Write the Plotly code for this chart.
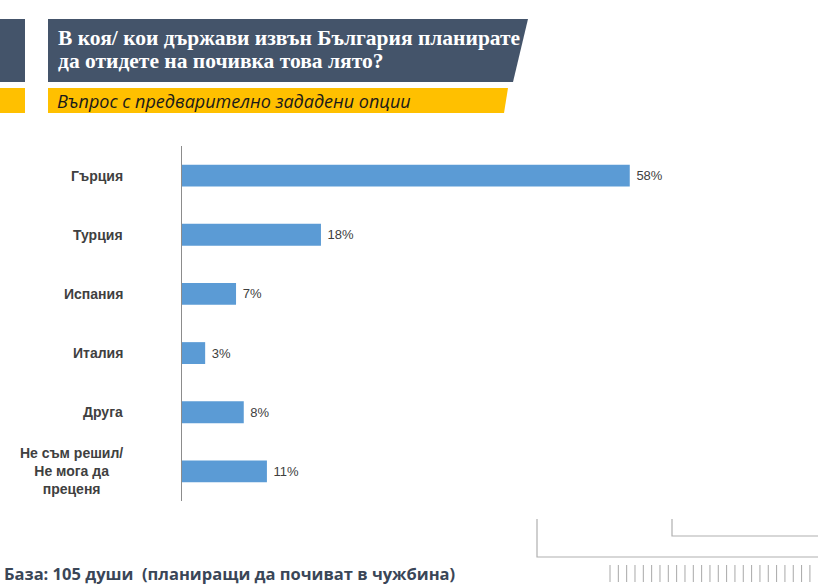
import plotly.graph_objects as go

categories = ["Гърция", "Турция", "Испания", "Италия", "Друга",
              "Не съм решил/<br>Не мога да<br>преценя"]
values = [58, 18, 7, 3, 8, 11]

title_line1 = "В коя/ кои държави извън България планирате"
title_line2 = "да отидете на почивка това лято?"
subtitle = "Въпрос с предварително зададени опции"
footer = "База: 105 души  (планиращи да почиват в чужбина)"

W, H = 818, 585
L, R, T, B = 182, 49, 146, 84
PW, PH = W - L - R, H - T - B


def fx(x):
    return (x - L) / PW


def fy(y):
    return (H - B - y) / PH


def path(pts):
    return "M " + " L ".join(f"{fx(x)},{fy(y)}" for x, y in pts) + " Z"


fig = go.Figure(go.Bar(
    x=values, y=categories, orientation="h",
    marker=dict(color="#5B9BD5", line=dict(width=0)),
    texttemplate=" %{x}%", textposition="outside",
    textfont=dict(family="Liberation Sans, Arial", size=13, color="#404040"),
    cliponaxis=False, hoverinfo="skip",
))

shapes = []
DARK = "#44546A"
YEL = "#FFC000"
# header bands
shapes.append(dict(type="path", xref="paper", yref="paper", layer="below",
                   path=path([(0, 19), (25, 19), (25, 82), (0, 82)]),
                   fillcolor=DARK, line=dict(width=0)))
shapes.append(dict(type="path", xref="paper", yref="paper", layer="below",
                   path=path([(48, 19), (528, 19), (513, 82), (48, 82)]),
                   fillcolor=DARK, line=dict(width=0)))
shapes.append(dict(type="path", xref="paper", yref="paper", layer="below",
                   path=path([(0, 88), (25, 88), (25, 113), (0, 113)]),
                   fillcolor=YEL, line=dict(width=0)))
shapes.append(dict(type="path", xref="paper", yref="paper", layer="below",
                   path=path([(48, 88), (508, 88), (504, 113), (48, 113)]),
                   fillcolor=YEL, line=dict(width=0)))
# bottom-right decorations
LG = "#B0B0B0"
for pts in ([(537, 519), (537, 557), (818, 557)], [(672, 519), (672, 536), (818, 536)]):
    shapes.append(dict(type="path", xref="paper", yref="paper",
                       path="M " + " L ".join(f"{fx(x)},{fy(y)}" for x, y in pts),
                       line=dict(color=LG, width=1.2)))
for i in range(25):
    x = 610 + i * 8.33
    shapes.append(dict(type="line", xref="paper", yref="paper",
                       x0=fx(x), x1=fx(x), y0=fy(565), y1=fy(582),
                       line=dict(color="#A8A8A8", width=1)))

annotations = [
    dict(xref="paper", yref="paper", x=fx(56), y=fy(38), xanchor="left", yanchor="middle",
         text=f"<b>{title_line1}</b>", showarrow=False,
         font=dict(family="Liberation Serif, serif", size=21.5, color="white")),
    dict(xref="paper", yref="paper", x=fx(56), y=fy(61), xanchor="left", yanchor="middle",
         text=f"<b>{title_line2}</b>", showarrow=False,
         font=dict(family="Liberation Serif, serif", size=21.5, color="white")),
    dict(xref="paper", yref="paper", x=fx(55), y=fy(101), xanchor="left", yanchor="middle",
         text=f"<i>{subtitle}</i>", showarrow=False,
         font=dict(family="Open Sans, sans-serif", size=18, color="#1a1a1a")),
    dict(xref="paper", yref="paper", x=fx(2), y=fy(573), xanchor="left", yanchor="middle",
         text=f"<b>{footer}</b>", showarrow=False,
         font=dict(family="Open Sans, sans-serif", size=16.5, color="#3A4657")),
]
for c in categories:
    annotations.append(dict(xref="paper", yref="y", x=fx(125), y=c, xanchor="right",
                            yanchor="middle", align="center", text=f"<b>{c}</b>",
                            showarrow=False,
                            font=dict(family="Liberation Sans, Arial", size=14, color="#404040")))

fig.update_layout(
    width=W, height=H, autosize=False,
    margin=dict(l=L, r=R, t=T, b=B, pad=0),
    paper_bgcolor="white", plot_bgcolor="white",
    showlegend=False, bargap=0.63,
    xaxis=dict(range=[0, PW / 7.72], visible=False, fixedrange=True),
    yaxis=dict(categoryorder="array", categoryarray=categories, autorange="reversed",
               showticklabels=False, showgrid=False, zeroline=False, ticks="",
               showline=True, linecolor="#8C8C8C", linewidth=1, fixedrange=True),
    shapes=shapes, annotations=annotations,
)

fig.write_html("out.html", config={"displayModeBar": False},
               post_script="document.body.style.margin='0';document.body.style.padding='0';document.body.style.overflow='hidden';")
